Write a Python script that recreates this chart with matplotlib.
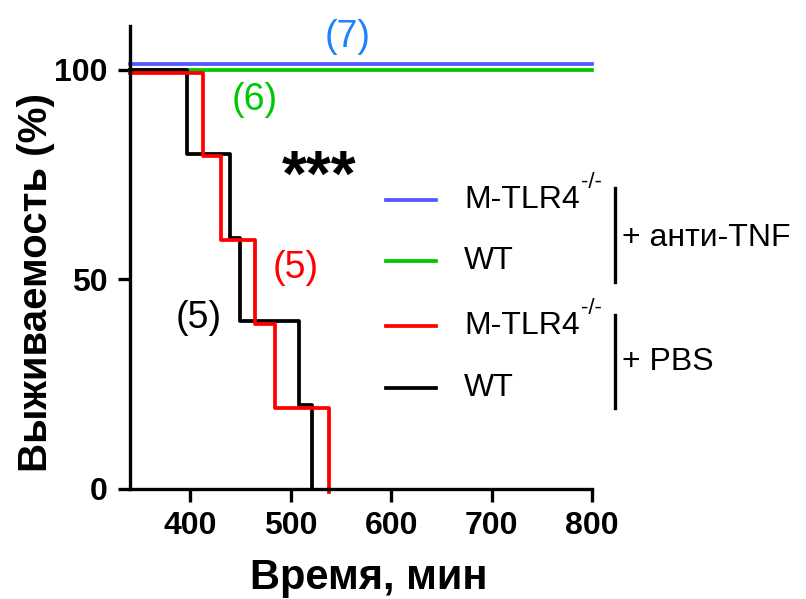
import numpy as np
import matplotlib
matplotlib.use('Agg')
from matplotlib import pyplot as plt
from matplotlib.lines import Line2D

plt.rcParams['font.family'] = ['Liberation Sans', 'DejaVu Sans']

# survival data (time in minutes, survival %)
ko_pbs_t = [340, 413, 431, 464, 484, 538]
ko_pbs_s = [100, 80, 60, 40, 20, 0]
wt_pbs_t = [340, 397, 440, 450, 508, 521]
wt_pbs_s = [100, 80, 60, 40, 20, 0]
ko_tnf_t = [340, 800]
ko_tnf_s = [100, 100]
wt_tnf_t = [340, 800]
wt_tnf_s = [100, 100]

c_blue = '#5555ff'
c_green = '#00c800'
c_red = '#ff0000'
c_black = '#000000'

fig = plt.figure(figsize=(8.06, 5.99), dpi=100)
ax = fig.add_axes([130/806, 1-489/599, (592-130)/806, (489-26)/599])

lw = 2.7
# tiny vertical offsets so overlapping curves stay visible (like the original)
ax.plot(ko_tnf_t, np.array(ko_tnf_s) + 1.5, color=c_blue, lw=lw, drawstyle='steps-post', clip_on=False)
ax.plot(wt_tnf_t, wt_tnf_s, color=c_green, lw=lw, drawstyle='steps-post', clip_on=False)
ax.plot(wt_pbs_t + [wt_pbs_t[-1]], wt_pbs_s + [0], color=c_black, lw=lw, drawstyle='steps-post', clip_on=False)
ax.plot(ko_pbs_t, np.array(ko_pbs_s) - 0.6, color=c_red, lw=lw, drawstyle='steps-post', clip_on=False)

ax.set_xlim(340, 800)
ax.set_ylim(0, 110.5)
ax.set_xticks([400, 500, 600, 700, 800])
ax.set_yticks([0, 50, 100])
for s in ['top', 'right']:
    ax.spines[s].set_visible(False)
for s in ['left', 'bottom']:
    ax.spines[s].set_linewidth(2.4)
ax.tick_params(axis='both', width=2.4, length=9, labelsize=23, pad=7)
for lab in ax.get_xticklabels() + ax.get_yticklabels():
    lab.set_fontweight('bold')
ax.set_xlabel('Время, мин', fontsize=30, fontweight='bold', labelpad=12)
ax.xaxis.label.set_x(0.517)
ax.set_ylabel('Выживаемость (%)', fontsize=29, fontweight='bold')
ax.yaxis.set_label_coords(-0.163, 0.447)

# group sizes and significance
ax.text(557, 107.8, '(7)', color='#1e82ff', fontsize=27, ha='center', va='center')
ax.text(464, 92.8, '(6)', color=c_green, fontsize=27, ha='center', va='center')
ax.text(505, 52.7, '(5)', color=c_red, fontsize=27, ha='center', va='center')
ax.text(408, 40.8, '(5)', color=c_black, fontsize=27, ha='center', va='center')
ax.text(528, 74, '***', color='black', fontsize=46, fontweight='bold', ha='center', va='center')

# manual legend with brackets
def fx(px):
    return px / 806

def fy(py):
    return 1 - py / 599

legend_items = [
    (c_blue, 'M-TLR4', 200),
    (c_green, 'WT', 261),
    (c_red, 'M-TLR4', 326),
    (c_black, 'WT', 388),
]
fig.canvas.draw()
renderer = fig.canvas.get_renderer()
for col, lab, py in legend_items:
    fig.add_artist(Line2D([fx(386), fx(436)], [fy(py), fy(py)], color=col, lw=lw))
    t = fig.text(fx(464), fy(py), lab, fontsize=23, ha='left', va='center')
    if lab.startswith('M'):
        bb = t.get_window_extent(renderer)
        fig.text(bb.x1 / 806 + 0.002, fy(py - 7), '-/-', fontsize=16, ha='left', va='bottom')

fig.add_artist(Line2D([fx(615), fx(615)], [fy(188), fy(282)], color='black', lw=2.4))
fig.add_artist(Line2D([fx(615), fx(615)], [fy(315), fy(408)], color='black', lw=2.4))
fig.text(fx(622), fy(238), '+ анти-TNF', fontsize=23, ha='left', va='center')
fig.text(fx(622), fy(362), '+ PBS', fontsize=23, ha='left', va='center')

fig.savefig('out.png', dpi=100)
